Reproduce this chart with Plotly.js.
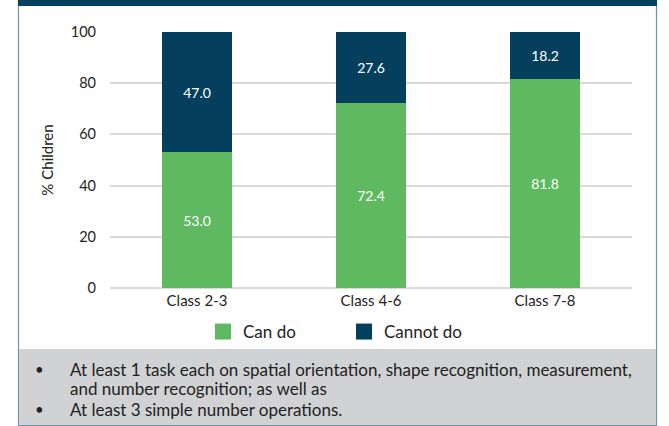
<!DOCTYPE html>
<html>
<head>
<meta charset="utf-8">
<script src="https://cdn.plot.ly/plotly-3.0.1.min.js"></script>
<style>html,body{margin:0;padding:0;background:#fff;}#chart{width:669px;height:426px;}</style>
</head>
<body>
<div id="chart"></div>
<script>
const categories = ["Class 2-3", "Class 4-6", "Class 7-8"];
const canDo = [53.0, 72.4, 81.8];
const cannotDo = [47.0, 27.6, 18.2];
const seriesNames = ["Can do", "Cannot do"];
const yTicks = [0, 20, 40, 60, 80, 100];
const yTitle = "% Children";
const notes = [
  "At least 1 task each on spatial orientation, shape recognition, measurement,",
  "and number recognition; as well as",
  "At least 3 simple number operations."
];
const noteBullets = [true, false, true];

const W = 669, H = 426;
const M = {l: 110, r: 37, t: 32, b: 138};
const pw = W - M.l - M.r, ph = H - M.t - M.b;
const px = x => (x - M.l) / pw;
const py = y => (H - M.b - y) / ph;

const GREEN = "#5fb960", NAVY = "#053f5e", FONT = "Lato, 'Open Sans', sans-serif";

const traces = [
  {type: "bar", x: categories, y: canDo, name: seriesNames[0], marker: {color: GREEN},
   text: canDo.map(v => v.toFixed(1)), textposition: "inside", insidetextanchor: "middle",
   textfont: {color: "#ffffff", size: 14, family: FONT}, showlegend: false, hoverinfo: "skip"},
  {type: "bar", x: categories, y: cannotDo, name: seriesNames[1], marker: {color: NAVY},
   text: cannotDo.map(v => v.toFixed(1)), textposition: "inside", insidetextanchor: "middle",
   textfont: {color: "#ffffff", size: 14, family: FONT}, showlegend: false, hoverinfo: "skip"},
  {type: "scatter", mode: "markers", x: [null], y: [null], name: seriesNames[0],
   marker: {symbol: "square", size: 16, color: GREEN}},
  {type: "scatter", mode: "markers", x: [null], y: [null], name: seriesNames[1],
   marker: {symbol: "square", size: 16, color: NAVY}}
];

const shapes = [
  {type: "rect", xref: "paper", yref: "paper", x0: px(18.5), x1: px(656.5), y0: py(425.5), y1: py(0),
   line: {color: "#6f93ad", width: 1.2}, fillcolor: "rgba(0,0,0,0)", layer: "below"},
  {type: "rect", xref: "paper", yref: "paper", x0: px(19), x1: px(656), y0: py(425), y1: py(349),
   line: {width: 0}, fillcolor: "#d1d2d4", layer: "below"},
  {type: "rect", xref: "paper", yref: "paper", x0: px(18), x1: px(657), y0: py(6), y1: py(0),
   line: {width: 0}, fillcolor: "#053f5e", layer: "above"}
];

const noteY = [369, 388, 409];
const annotations = [];
notes.forEach((t, i) => {
  annotations.push({xref: "paper", yref: "paper", x: px(68), y: py(noteY[i]), xanchor: "left", yanchor: "middle",
    text: t, showarrow: false, font: {family: FONT, size: 17, color: "#222"}});
  if (noteBullets[i]) annotations.push({xref: "paper", yref: "paper", x: px(39), y: py(noteY[i]), xanchor: "center", yanchor: "middle",
    text: "•", showarrow: false, font: {family: FONT, size: 15, color: "#222"}});
});

const layout = {
  width: W, height: H,
  margin: {l: M.l, r: M.r, t: M.t, b: M.b, pad: 0},
  paper_bgcolor: "#ffffff", plot_bgcolor: "#ffffff",
  barmode: "stack", bargap: 0.6,
  font: {family: FONT, color: "#333"},
  xaxis: {type: "category", showgrid: false, zeroline: false, showline: false, ticks: "",
    tickfont: {size: 15, family: FONT, color: "#222"}, ticklabelstandoff: 2, fixedrange: true},
  yaxis: {range: [0, 100], tickvals: yTicks, showgrid: true, gridcolor: "#d9d9d9", gridwidth: 2,
    zeroline: true, zerolinecolor: "#d9d9d9", zerolinewidth: 2, showline: false, ticks: "",
    ticklabelstandoff: 13, tickfont: {size: 14.5, family: FONT, color: "#222"},
    title: {text: yTitle, standoff: 13, font: {size: 15, family: FONT, color: "#222"}}, fixedrange: true},
  showlegend: true,
  legend: {orientation: "h", traceorder: "normal", x: px(203), y: py(314), xanchor: "left", yanchor: "top",
    entrywidth: 96, entrywidthmode: "pixels", font: {size: 17, family: FONT, color: "#222"},
    bgcolor: "rgba(0,0,0,0)", itemclick: false, itemdoubleclick: false},
  shapes: shapes,
  annotations: annotations
};

Plotly.newPlot("chart", traces, layout, {displayModeBar: false, staticPlot: true});
</script>
</body>
</html>
